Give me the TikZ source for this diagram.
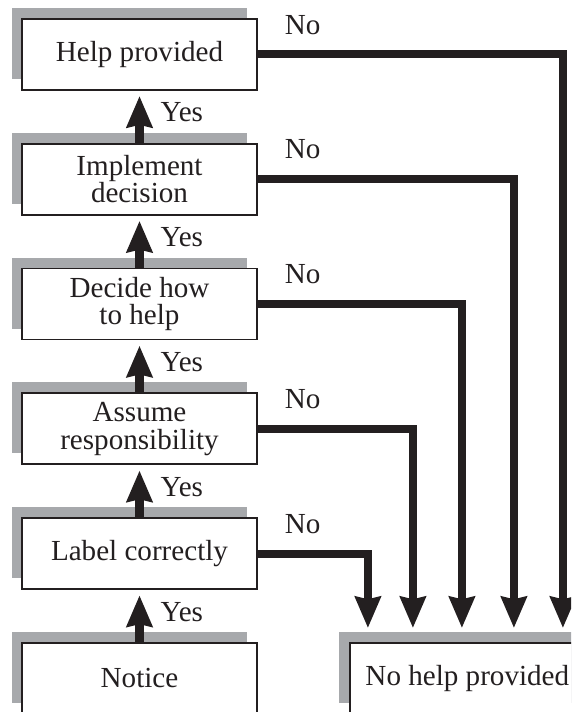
\documentclass[tikz,border=0pt]{standalone}
\usepackage{fontspec}
\setmainfont{Liberation Serif}
\usetikzlibrary{arrows.meta, positioning, shadows}

\definecolor{inkblack}{RGB}{35,31,32}
\definecolor{shadegray}{RGB}{167,169,172}

\begin{document}
\begin{tikzpicture}[
	every node/.style={font=\fontsize{20.7}{19.5}\selectfont, text=inkblack},
	stepbox/.style={draw=inkblack, line width=1.3pt, fill=white, align=center,
		minimum width=5.875cm, minimum height=1.775cm, inner sep=0pt,
		general shadow={fill=shadegray, shadow xshift=-0.26cm, shadow yshift=0.275cm}},
	fattip/.style={-{Stealth[length=0.78cm, width=0.63cm, inset=0.06cm]}},
	yesline/.style={draw=inkblack, line width=5.7pt, fattip, shorten >=0.13cm},
	noline/.style={draw=inkblack, line width=5.7pt, fattip, shorten >=0.35cm},
	lbl/.style={inner sep=0pt}
	]
	% 画布范围
	\clip (0,0) rectangle (14.275,17.8);
	
	% --- 左列：各个步骤 ---
	\node[stepbox] (notice) at (3.4875,0.8375) {Notice};
	\node[stepbox, above=1.3cm of notice] (label) {Label correctly};
	\node[stepbox, above=1.3cm of label] (assume) {Assume\\responsibility};
	\node[stepbox, above=1.3cm of assume] (decide) {Decide how\\to help};
	\node[stepbox, above=1.3cm of decide] (implement) {Implement\\decision};
	\node[stepbox, above=1.3cm of implement] (help) {Help provided};
	
	% 右下：结果
	\node[stepbox, right=2.275cm of notice] (nohelp) {No help provided};
	
	% 箭头落点
	\coordinate (in1) at ([xshift=0.475cm]nohelp.north west);
	\coordinate (in2) at ([xshift=1.6cm]nohelp.north west);
	\coordinate (in3) at ([xshift=2.825cm]nohelp.north west);
	\coordinate (in4) at ([xshift=4.125cm]nohelp.north west);
	\coordinate (in5) at ([xshift=5.35cm]nohelp.north west);
	
	% --- Yes 箭头 ---
	\draw[yesline] (notice.north) -- (label.south) node[lbl, pos=0.58, right=0.43cm] (yes1) {Yes};
	\draw[yesline] (label.north) -- (assume.south) node[lbl, pos=0.58, right=0.43cm] (yes2) {Yes};
	\draw[yesline] (assume.north) -- (decide.south) node[lbl, pos=0.58, right=0.43cm] (yes3) {Yes};
	\draw[yesline] (decide.north) -- (implement.south) node[lbl, pos=0.58, right=0.43cm] (yes4) {Yes};
	\draw[yesline] (implement.north) -- (help.south) node[lbl, pos=0.58, right=0.43cm] (yes5) {Yes};
	
	% --- No 箭头 ---
	\draw[noline] (label.east) -| (in1) node[lbl, pos=0, above right=0.4cm and 0.575cm] (no1) {No};
	\draw[noline] (assume.east) -| (in2) node[lbl, pos=0, above right=0.4cm and 0.575cm] (no2) {No};
	\draw[noline] (decide.east) -| (in3) node[lbl, pos=0, above right=0.4cm and 0.575cm] (no3) {No};
	\draw[noline] (implement.east) -| (in4) node[lbl, pos=0, above right=0.4cm and 0.575cm] (no4) {No};
	\draw[noline] (help.east) -| (in5) node[lbl, pos=0, above right=0.4cm and 0.575cm] (no5) {No};
\end{tikzpicture}
\end{document}
